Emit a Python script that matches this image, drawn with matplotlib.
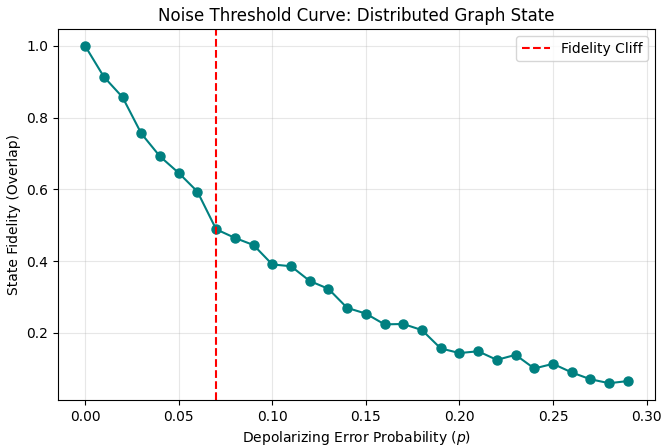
import matplotlib
matplotlib.use("Agg")
import matplotlib.pyplot as plt
import numpy as np

p_values = [0.00, 0.01, 0.02, 0.03, 0.04, 0.05, 0.06, 0.07, 0.08, 0.09,
            0.10, 0.11, 0.12, 0.13, 0.14, 0.15, 0.16, 0.17, 0.18, 0.19,
            0.20, 0.21, 0.22, 0.23, 0.24, 0.25, 0.26, 0.27, 0.28, 0.29]
fidelity = [1.000, 0.914, 0.857, 0.756, 0.692, 0.646, 0.594, 0.489, 0.465, 0.445,
            0.391, 0.386, 0.345, 0.323, 0.270, 0.254, 0.224, 0.225, 0.208, 0.157,
            0.144, 0.149, 0.125, 0.139, 0.101, 0.114, 0.090, 0.071, 0.060, 0.066]
cliff_p = 0.07

fig, ax = plt.subplots(figsize=(6.62, 4.47), dpi=100)
ax.plot(p_values, fidelity, marker='o', color='teal', markersize=6.5, linewidth=1.5)
ax.axvline(cliff_p, color='red', linestyle='--', linewidth=1.5, label='Fidelity Cliff')
ax.set_title('Noise Threshold Curve: Distributed Graph State')
ax.set_xlabel('Depolarizing Error Probability ($p$)')
ax.set_ylabel('State Fidelity (Overlap)')
ax.grid(True, alpha=0.3)
ax.legend(loc='upper right')
fig.subplots_adjust(left=0.0876, right=0.9894, top=0.935, bottom=0.105)
fig.savefig('out.png', dpi=100)
